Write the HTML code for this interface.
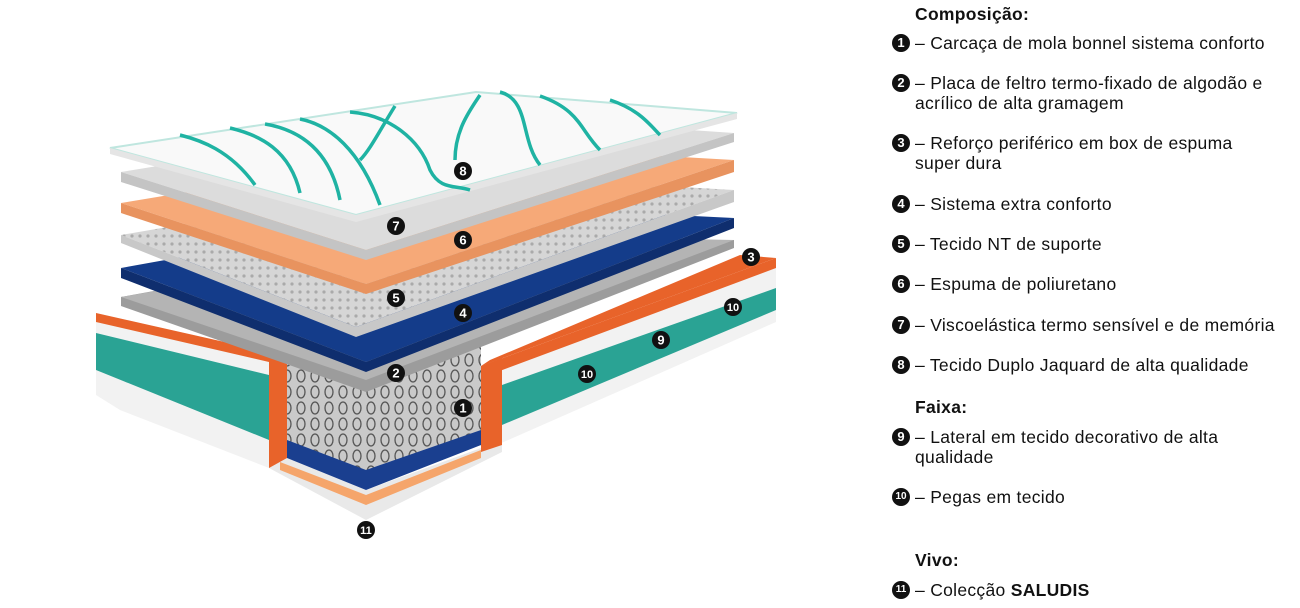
<!DOCTYPE html>
<html><head><meta charset="utf-8"><style>
html,body{margin:0;padding:0;background:#fff;}
body{width:1300px;height:608px;position:relative;overflow:hidden;font-family:"Liberation Sans",sans-serif;color:#111;}
.t{position:absolute;left:915px;font-size:17.5px;letter-spacing:0.3px;line-height:20px;white-space:nowrap;}
.h{font-weight:bold;}
.n{position:absolute;left:892px;width:18px;height:18px;border-radius:50%;background:#111;color:#fff;font-size:13px;font-weight:bold;text-align:center;line-height:18px;}
</style></head><body>
<svg width="880" height="608" style="position:absolute;left:0;top:0">
<defs>
<pattern id="sp" width="14" height="16" patternUnits="userSpaceOnUse">
<rect width="14" height="16" fill="#c9c9c9"/>
<ellipse cx="7" cy="8" rx="4" ry="6" fill="none" stroke="#555" stroke-width="1.3"/>
</pattern>
<pattern id="dots" width="8" height="8" patternUnits="userSpaceOnUse">
<rect width="8" height="8" fill="#d6d6d6"/><circle cx="4" cy="4" r="1.6" fill="#aaa"/>
</pattern>
</defs>
<polygon points="96,313 269,352 269,468 120,410 96,395" fill="#f2f2f2"/>
<polygon points="96,333 269,375 269,440 96,370" fill="#2aa394"/>
<polygon points="96,313 269,352 269,362 96,322" fill="#e8632a"/>
<polygon points="481,366 776,262 776,322 481,452" fill="#f2f2f2"/>
<polygon points="502,385 776,288 776,310 502,425" fill="#2aa394"/>
<polygon points="481,366 776,258 776,268 481,378" fill="#e8632a"/>
<polygon points="490,360 740,255 776,258 481,366" fill="#e8632a"/>
<polygon points="269,455 287,458 366,490 481,448 502,445 502,452 366,520 269,468" fill="#e9e9e9"/>
<polygon points="280,462 366,495 481,450 481,458 366,505 280,470" fill="#f5a56b"/>
<polygon points="287,350 481,345 481,445 366,478 287,452" fill="url(#sp)"/>
<polygon points="287,440 366,470 481,430 481,445 366,490 287,458" fill="#1a3f8f"/>
<polygon points="269,352 287,346 287,458 269,468" fill="#e8632a"/>
<polygon points="481,366 502,358 502,445 481,452" fill="#e8632a"/>
<polygon points="121,297 470,255 734,240 366,382 121,305" fill="#a9a9a9"/>
<polygon points="121,297 380,250 734,240 734,248 366,392 121,306" fill="#9c9c9c"/>
<polygon points="121,297 480,235 734,240 366,380" fill="#b4b4b4"/>
<polygon points="121,268 470,205 734,218 366,362" fill="#143c8a"/>
<polygon points="121,268 366,362 734,218 734,228 366,372 121,278" fill="#0f2e6e"/>
<polygon points="121,235 470,175 734,190 356,327" fill="url(#dots)"/>
<polygon points="121,235 356,327 734,190 734,202 356,337 121,243" fill="#c8c8c8"/>
<polygon points="121,203 470,145 734,160 366,284" fill="#f6a978"/>
<polygon points="121,203 366,284 734,160 734,172 366,294 121,213" fill="#e8935f"/>
<polygon points="121,172 470,115 734,133 366,250" fill="#dcdcdc"/>
<polygon points="121,172 366,250 734,133 734,142 366,260 121,182" fill="#c4c4c4"/>
<polygon points="110,148 476,92 737,113 356,215" fill="#f9f9f9" stroke="#bfe6df" stroke-width="2"/>
<polygon points="110,148 356,215 737,113 737,119 356,222 110,154" fill="#e5e5e5"/>
<g fill="none" stroke="#1fb3a3" stroke-width="3.5">
<path d="M180,135 C200,140 230,150 255,185"/>
<path d="M230,128 C260,135 290,150 300,193"/>
<path d="M265,124 C300,130 330,150 340,200"/>
<path d="M300,119 C330,125 360,150 380,205"/>
<path d="M350,112 C390,115 420,140 430,170 C440,190 455,185 470,190"/>
<path d="M395,106 C380,130 370,150 360,160"/>
<path d="M480,95 C470,110 455,130 455,160"/>
<path d="M500,92 C530,100 520,140 540,165"/>
<path d="M540,96 C580,110 580,130 600,150"/>
<path d="M610,100 C640,110 650,125 660,135"/>
</g>
<g font-family="Liberation Sans" font-weight="bold" font-size="13" fill="#fff" text-anchor="middle">
<circle cx="463" cy="171" r="9" fill="#111"/><text x="463" y="175.5">8</text>
<circle cx="396" cy="226" r="9" fill="#111"/><text x="396" y="230.5">7</text>
<circle cx="463" cy="240" r="9" fill="#111"/><text x="463" y="244.5">6</text>
<circle cx="396" cy="298" r="9" fill="#111"/><text x="396" y="302.5">5</text>
<circle cx="463" cy="313" r="9" fill="#111"/><text x="463" y="317.5">4</text>
<circle cx="751" cy="257" r="9" fill="#111"/><text x="751" y="261.5">3</text>
<circle cx="396" cy="373" r="9" fill="#111"/><text x="396" y="377.5">2</text>
<circle cx="463" cy="408" r="9" fill="#111"/><text x="463" y="412.5">1</text>
<circle cx="733" cy="307" r="9" fill="#111"/><text x="733" y="311" font-size="11">10</text>
<circle cx="661" cy="340" r="9" fill="#111"/><text x="661" y="344.5">9</text>
<circle cx="587" cy="374" r="9" fill="#111"/><text x="587" y="378" font-size="11">10</text>
<circle cx="366" cy="530" r="9" fill="#111"/><text x="366" y="534" font-size="11">11</text>
</g>
</svg>
<div class="t h" style="top:4px">Composição:</div>
<div class="n" style="top:34px">1</div><div class="t" style="top:33px">– Carcaça de mola bonnel sistema conforto</div>
<div class="n" style="top:74px">2</div><div class="t" style="top:73px">– Placa de feltro termo-fixado de algodão e<br>acrílico de alta gramagem</div>
<div class="n" style="top:134px">3</div><div class="t" style="top:133px">– Reforço periférico em box de espuma<br>super dura</div>
<div class="n" style="top:195px">4</div><div class="t" style="top:194px">– Sistema extra conforto</div>
<div class="n" style="top:235px">5</div><div class="t" style="top:234px">– Tecido NT de suporte</div>
<div class="n" style="top:275px">6</div><div class="t" style="top:274px">– Espuma de poliuretano</div>
<div class="n" style="top:316px">7</div><div class="t" style="top:315px">– Viscoelástica termo sensível e de memória</div>
<div class="n" style="top:356px">8</div><div class="t" style="top:355px">– Tecido Duplo Jaquard de alta qualidade</div>
<div class="t h" style="top:397px">Faixa:</div>
<div class="n" style="top:428px">9</div><div class="t" style="top:427px">– Lateral em tecido decorativo de alta<br>qualidade</div>
<div class="n" style="top:488px;font-size:10px">10</div><div class="t" style="top:487px">– Pegas em tecido</div>
<div class="t h" style="top:550px">Vivo:</div>
<div class="n" style="top:581px;font-size:10px">11</div><div class="t" style="top:580px">– Colecção <b>SALUDIS</b></div>
</body></html>
